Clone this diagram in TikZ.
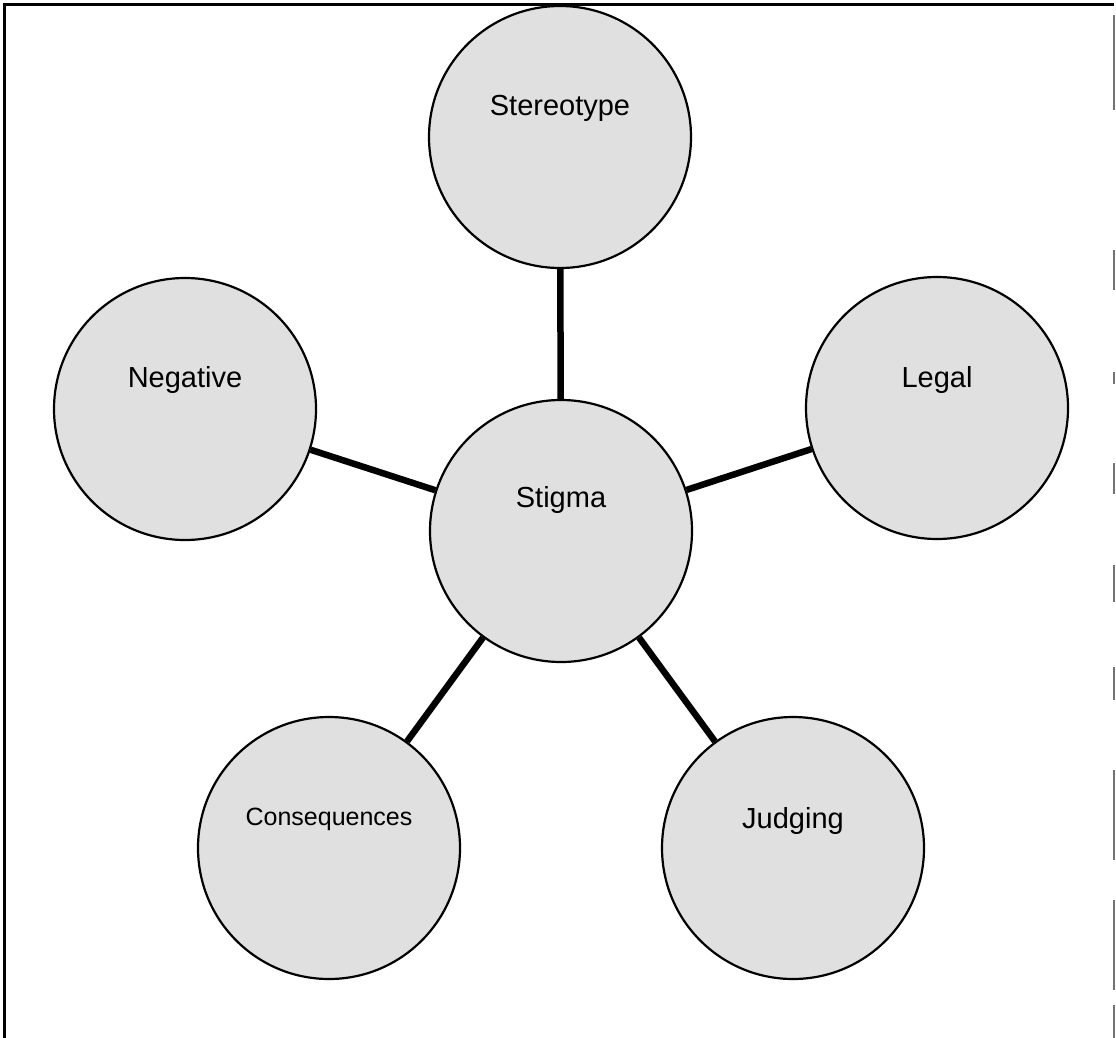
\documentclass[tikz,border=0pt]{standalone}
\usepackage{fontspec}
\setmainfont{Liberation Sans}
\begin{document}
\begin{tikzpicture}[x=1pt,y=-1pt,
  bubble/.style={circle, draw=black, line width=2.2pt, fill=black!12,
                 minimum size=262pt, inner sep=0pt},
  lbl/.style={font=\fontsize{29}{32}\selectfont, inner sep=0pt,
              text height=0.72em, text depth=0.21em},
  smalllbl/.style={lbl, font=\fontsize{25}{28}\selectfont},
  link/.style={line width=6.5pt},
  frame/.style={line width=2.2pt, black}]
\useasboundingbox (0,0) rectangle (1116,1038);
\fill[white] (0,0) rectangle (1116,1038);

% open frame: left and top sides, broken grey right side
\draw[frame] (4.5,1038) -- (4.5,4.5) -- (1114,4.5);
\foreach \a/\b in {15/110, 250/290, 372/384, 463/494, 565/602, 667/700, 770/860, 900/990, 1005/1038}
  \draw[line width=1.5pt, black!55] (1114,\a) -- (1114,\b);

% bubbles
\node[bubble] (sg) at (561,531) {};
\node[bubble] (st) at (560,137) {};
\node[bubble] (ng) at (185,409) {};
\node[bubble] (lg) at (937,408) {};
\node[bubble] (cq) at (329,848) {};
\node[bubble] (jd) at (793,848) {};

% spokes from the hub
\draw[link] (sg) -- (st);
\draw[link] (sg) -- (ng);
\draw[link] (sg) -- (lg);
\draw[link] (sg) -- (cq);
\draw[link] (sg) -- (jd);

% labels, set a little above each centre
\node[lbl] (tsg) at ([yshift=26pt]sg.center) {Stigma};
\node[lbl] (tst) at ([yshift=24pt]st.center) {Stereotype};
\node[lbl] (tng) at ([yshift=24pt]ng.center) {Negative};
\node[lbl] (tlg) at ([yshift=23pt]lg.center) {Legal};
\node[smalllbl] (tcq) at ([yshift=25pt]cq.center) {Consequences};
\node[lbl] (tjd) at ([yshift=22pt]jd.center) {Judging};
\end{tikzpicture}
\end{document}
